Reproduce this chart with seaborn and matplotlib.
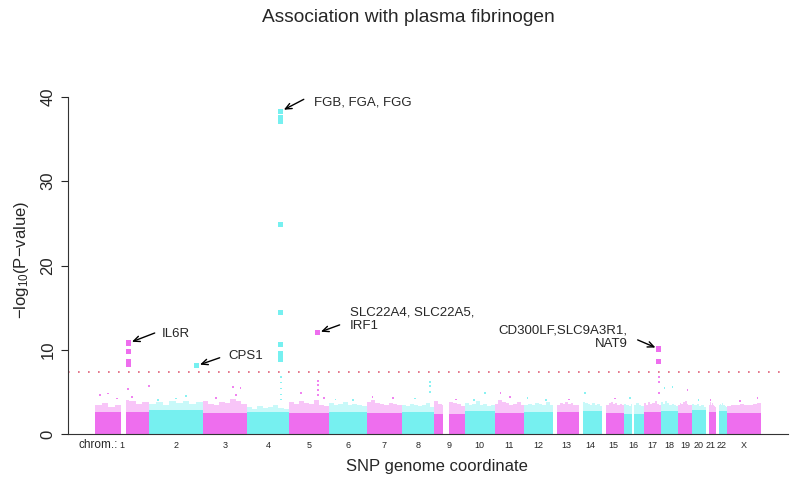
import numpy as np
import pandas as pd
import matplotlib.pyplot as plt
import seaborn as sns

# chromosome sizes (Mb) and the stretches that carry SNPs
chroms = [str(i) for i in range(1, 23)] + ['X']
chrom_len = [247, 243, 199, 191, 181, 171, 159, 146, 140, 135, 134, 132,
             114, 106, 100, 89, 79, 76, 64, 62, 47, 50, 155]
chrom_segments = {'1': [(0, 121), (143, 247)], '9': [(0, 40), (68, 140)],
                  '13': [(18, 114)], '14': [(19, 106)], '15': [(20, 100)],
                  '16': [(0, 35), (46, 89)], '21': [(14, 47)], '22': [(15, 50)]}

# dense band of non-significant SNPs: solid height and ragged top (8 bins per chrom)
band_solid = [2.6, 2.8, 2.5, 2.6, 2.5, 2.6, 2.5, 2.6, 2.4, 2.7, 2.5, 2.6,
              2.6, 2.7, 2.5, 2.4, 2.6, 2.7, 2.5, 2.8, 2.6, 2.7, 2.5]
band_top = [
    [3.4, 3.7, 3.2, 3.5, 4.0, 3.9, 3.6, 3.8],
    [3.6, 3.8, 3.5, 3.9, 3.7, 3.9, 3.6, 3.8],
    [3.9, 3.6, 3.4, 3.8, 3.7, 4.1, 3.9, 3.6],
    [3.2, 3.0, 3.3, 3.1, 3.2, 3.4, 3.1, 3.0],
    [3.8, 3.6, 3.9, 3.7, 3.6, 4.0, 3.5, 3.3],
    [3.7, 3.5, 3.6, 3.8, 3.4, 3.6, 3.5, 3.3],
    [3.8, 4.0, 3.7, 3.6, 3.5, 3.7, 3.6, 3.4],
    [3.4, 3.3, 3.6, 3.5, 3.3, 3.4, 3.7, 3.2],
    [3.9, 3.6, 3.5, 3.4, 3.8, 3.7, 3.6, 3.3],
    [3.7, 3.5, 3.6, 3.9, 3.4, 3.6, 3.3, 3.5],
    [3.6, 4.0, 3.8, 3.7, 3.5, 3.6, 3.8, 3.4],
    [3.5, 3.6, 3.4, 3.7, 3.6, 3.5, 3.8, 3.4],
    [3.5, 3.7, 3.6, 3.8, 3.6, 3.7, 3.5, 3.4],
    [3.8, 3.7, 3.6, 3.5, 3.7, 3.4, 3.6, 3.3],
    [3.5, 3.7, 3.8, 3.6, 3.7, 3.5, 3.6, 3.4],
    [3.6, 3.5, 3.3, 3.6, 3.5, 3.7, 3.4, 3.3],
    [3.7, 3.5, 3.8, 3.6, 3.7, 3.9, 3.6, 3.5],
    [3.8, 3.6, 3.9, 3.7, 3.5, 3.6, 3.4, 3.3],
    [3.5, 3.7, 3.6, 3.8, 3.9, 3.6, 3.5, 3.4],
    [3.6, 3.4, 3.5, 3.6, 3.3, 3.5, 3.4, 3.2],
    [3.5, 3.8, 3.6, 3.4, 3.7, 3.5, 3.3, 3.2],
    [3.4, 3.6, 3.5, 3.7, 3.4, 3.5, 3.3, 3.2],
    [3.3, 3.5, 3.4, 3.6, 3.5, 3.4, 3.6, 3.7],
]

# scattered SNPs sticking out of the band
dot_chrom = ['1', '1', '1', '1', '1', '1', '2', '2', '2', '3', '3', '3', '3',
             '4', '4', '4', '4', '4', '5', '5', '5', '5', '5', '5', '6', '6',
             '7', '7', '8', '8', '8', '8', '9', '10', '10', '11', '11', '12', '12',
             '13', '14', '15', '16', '17', '17', '17', '18', '18', '19', '20', '21',
             'X', 'X']
dot_pos = [23, 59, 150, 245, 100, 170, 165, 40, 120, 135, 171, 60, 150,
           154, 154, 154, 154, 154, 53, 130, 130, 130, 130, 160, 30, 110,
           27, 120, 127, 127, 127, 60, 100, 90, 40, 27, 68, 15, 100,
           70, 28, 60, 26, 68, 68, 68, 16, 52, 44, 30, 22,
           138, 60]
dot_logp = [4.6, 4.8, 5.3, 5.7, 4.2, 4.4, 4.5, 4.0, 4.2, 5.6, 5.5, 4.3, 4.6,
            6.8, 6.1, 5.4, 4.7, 4.1, 4.9, 6.3, 5.8, 5.2, 4.6, 4.3, 4.1, 4.0,
            4.4, 4.3, 6.2, 5.7, 5.0, 4.2, 4.1, 4.9, 4.0, 4.9, 4.4, 4.3, 4.0,
            4.1, 4.9, 4.2, 4.3, 6.8, 6.2, 4.9, 5.5, 5.6, 5.2, 4.0, 4.0,
            4.3, 3.9]

# genome-wide significant SNPs
hit_chrom = ['1', '1', '1', '1', '2', '4', '4', '4', '4', '4', '4', '4', '4', '4',
             '5', '17', '17']
hit_pos = [154, 154, 154, 154, 215, 154, 154, 154, 154, 154, 154, 154, 154, 154,
           130, 68, 68]
hit_logp = [10.8, 9.8, 8.6, 8.3, 8.1, 38.3, 37.6, 37.1, 24.9, 14.4, 10.6, 9.6, 9.2, 8.9,
            12.0, 10.1, 8.6]

gene_text = ['IL6R', 'CPS1', 'FGB, FGA, FGG', 'SLC22A4, SLC22A5,\nIRF1',
             'CD300LF,SLC9A3R1,\nNAT9']
gene_chrom = ['1', '2', '4', '5', '17']
gene_pos = [154, 215, 154, 130, 68]
gene_logp = [10.8, 8.1, 38.3, 12.0, 10.1]

threshold = -np.log10(5e-8)

magenta = '#EE6EEE'
cyan = '#76F0F0'
chrom_color = {c: (magenta if i % 2 == 0 else cyan) for i, c in enumerate(chroms)}
offset = dict(zip(chroms, np.concatenate([[0], np.cumsum(chrom_len)[:-1]])))

sns.set_style('ticks')
plt.rcParams['font.family'] = ['Liberation Sans', 'DejaVu Sans']
plt.rcParams['mathtext.default'] = 'regular'

fig = plt.figure(figsize=(8, 4.82), dpi=100)
ax = fig.add_axes([68 / 800, 48 / 482, 720 / 800, 337 / 482])

# band
for i, c in enumerate(chroms):
    segs = chrom_segments.get(c, [(0, chrom_len[i])])
    edges = np.linspace(segs[0][0], segs[-1][1], len(band_top[i]) + 1)
    col = chrom_color[c]
    for b in range(len(band_top[i])):
        for s, e in segs:
            lo, hi = max(edges[b], s), min(edges[b + 1], e)
            if hi <= lo:
                continue
            x0 = offset[c] + lo
            ax.bar(x0, band_top[i][b] - band_solid[i], width=hi - lo, bottom=band_solid[i],
                   align='edge', color=col, alpha=0.4, linewidth=0, zorder=1)
            ax.bar(x0, band_solid[i], width=hi - lo, align='edge', color=col,
                   linewidth=0, zorder=1.2)

dots = pd.DataFrame({'chrom': dot_chrom, 'pos': dot_pos, 'logp': dot_logp})
dots['x'] = dots['pos'] + dots['chrom'].map(offset)
sns.scatterplot(data=dots, x='x', y='logp', hue='chrom', palette=chrom_color,
                marker='s', s=1.6, alpha=0.85, linewidth=0, legend=False, ax=ax, zorder=2)

hits = pd.DataFrame({'chrom': hit_chrom, 'pos': hit_pos, 'logp': hit_logp})
hits['x'] = hits['pos'] + hits['chrom'].map(offset)
sns.scatterplot(data=hits, x='x', y='logp', hue='chrom', palette=chrom_color,
                marker='s', s=14, linewidth=0, legend=False, ax=ax, zorder=3)

ax.axhline(threshold, color='#E0607A', lw=1.2, ls=(0, (1, 5)), zorder=2)

# gene annotations: arrow tail and text offsets in pixels from the top SNP
arrow_tail = [(26, 10), (23, 8), (23, 12), (22, 8), (-21, 9)]
text_at = [(33, 9), (32, 10), (33, 9), (32, 14), (-31, 12)]
for j, t in enumerate(gene_text):
    xy = (offset[gene_chrom[j]] + gene_pos[j], gene_logp[j])
    ax.annotate('', xy=xy, xytext=arrow_tail[j], textcoords='offset pixels',
                arrowprops=dict(arrowstyle='->,head_length=0.45,head_width=0.2',
                                color='black', lw=1, shrinkA=0, shrinkB=2.5))
    ha = 'right' if text_at[j][0] < 0 else 'left'
    ax.annotate(t, xy=xy, xytext=text_at[j], textcoords='offset pixels',
                ha=ha, va='center', fontsize=9.5, linespacing=1.15)

# chromosome labels under the axis
for i, c in enumerate(chroms):
    mid = offset[c] + chrom_len[i] / 2
    ax.annotate(c, xy=(mid, 0), xycoords=('data', 'axes fraction'), xytext=(0, -11),
                textcoords='offset pixels', ha='center', va='center', fontsize=6.5)
ax.annotate('chrom.:', xy=(offset['1'] + chrom_len[0] / 2, 0),
            xycoords=('data', 'axes fraction'), xytext=(-4, -11),
            textcoords='offset pixels', ha='right', va='center', fontsize=8.5)

ax.set_xlim(-121, 3141)
ax.set_ylim(0, 40)
ax.set_xticks([])
ax.set_yticks([0, 10, 20, 30, 40])
ax.tick_params(axis='y', length=5, width=0.8, labelsize=12, labelrotation=90, pad=4)
for lab in ax.get_yticklabels():
    lab.set_va('center')
ax.set_xlabel('')
ax.set_ylabel('')
for s in ['top', 'right']:
    ax.spines[s].set_visible(False)
ax.spines['left'].set_color('#333333')
ax.spines['bottom'].set_color('#333333')

fig.text(408 / 800, 1 - 18 / 482, 'Association with plasma fibrinogen',
         ha='center', va='center', fontsize=13.8)
fig.text(437 / 800, 1 - 467 / 482, 'SNP genome coordinate',
         ha='center', va='center', fontsize=12)
fig.text(22 / 800, 1 - 260 / 482, '\u2212log$_{10}$(P\u2212value)',
         ha='center', va='center', rotation=90, fontsize=12)

fig.savefig('out.png', dpi=100)
